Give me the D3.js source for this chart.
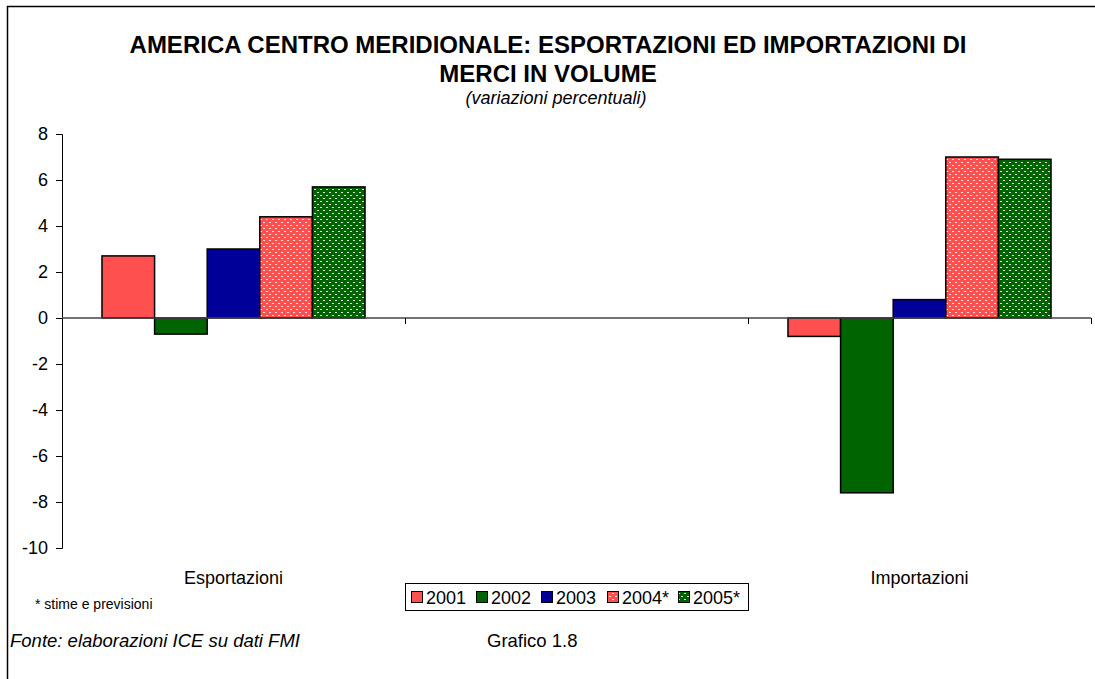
<!DOCTYPE html>
<html>
<head>
<meta charset="utf-8">
<script src="https://cdn.jsdelivr.net/npm/d3@7"></script>
<style>
  body { margin: 0; background: #fff; }
  text { font-family: "Liberation Sans", Arial, sans-serif; }
</style>
</head>
<body>
<svg id="chart"></svg>
<script>
// values
const categories = ["Esportazioni", "", "Importazioni"];
const seriesNames = ["2001", "2002", "2003", "2004*", "2005*"];
const esportazioni = [2.7, -0.7, 3.0, 4.4, 5.7];
const importazioni = [-0.8, -7.6, 0.8, 7.0, 6.9];
const yTicks = [-10, -8, -6, -4, -2, 0, 2, 4, 6, 8];
const colors = ["#ff5050", "#006400", "#000099", "#ff5050", "#006400"];
const patterned = [false, false, false, true, true];

const W = 1095, H = 679;
const margin = {top: 134, left: 62, right: 4, bottom: 131};
const width = W - margin.left - margin.right;
const height = H - margin.top - margin.bottom;

const svg = d3.select("#chart").attr("width", W).attr("height", H);

// dotted fills for the estimate years
const defs = svg.append("defs");
[3, 4].forEach(i => {
  const p = defs.append("pattern")
    .attr("id", "pat" + i)
    .attr("patternUnits", "userSpaceOnUse")
    .attr("width", 6).attr("height", 6);
  p.append("rect").attr("width", 6).attr("height", 6).attr("fill", colors[i]);
  p.append("rect").attr("x", 0).attr("y", 1).attr("width", 2).attr("height", 1).attr("fill", "#fff").attr("opacity", 0.85);
  p.append("rect").attr("x", 3).attr("y", 4).attr("width", 2).attr("height", 1).attr("fill", "#fff").attr("opacity", 0.85);
});
function fillFor(i) { return patterned[i] ? "url(#pat" + i + ")" : colors[i]; }

// frame (only top and left edges visible)
svg.append("path")
  .attr("d", "M7.5," + H + " V6.5 H" + W)
  .attr("fill", "none").attr("stroke", "#000").attr("stroke-width", 1.5);

// titles
svg.append("text").attr("x", 548).attr("y", 53).attr("text-anchor", "middle")
  .style("font-size", "24px").style("font-weight", "bold")
  .text("AMERICA CENTRO MERIDIONALE: ESPORTAZIONI ED IMPORTAZIONI DI");
svg.append("text").attr("x", 548).attr("y", 82).attr("text-anchor", "middle")
  .style("font-size", "24px").style("font-weight", "bold")
  .text("MERCI IN VOLUME");
svg.append("text").attr("x", 556).attr("y", 104).attr("text-anchor", "middle")
  .style("font-size", "18px").style("font-style", "italic")
  .text("(variazioni percentuali)");

const g = svg.append("g").attr("transform", "translate(" + margin.left + "," + margin.top + ")");

const y = d3.scaleLinear().domain([-10, 8]).range([height, 0]);
const x0 = d3.scaleBand().domain(d3.range(categories.length)).range([0, width]).paddingInner(0);
const x1 = d3.scaleBand().domain(d3.range(seriesNames.length))
  .range([0, x0.bandwidth()]).paddingOuter(0.76).paddingInner(0);

// y axis
const yAxis = g.append("g")
  .call(d3.axisLeft(y).tickValues(yTicks).tickSize(6).tickPadding(8).tickFormat(d => String(d)));
yAxis.selectAll("text").style("font-size", "18px").attr("fill", "#000");
yAxis.select(".domain").attr("stroke", "#000");
yAxis.selectAll(".tick line").attr("stroke", "#000");

// bars
const groups = [esportazioni, importazioni];
const groupIndex = [0, 2];
groups.forEach((vals, gi) => {
  g.append("g")
    .attr("transform", "translate(" + x0(groupIndex[gi]) + ",0)")
    .selectAll("rect")
    .data(vals)
    .join("rect")
    .attr("x", (d, i) => x1(i))
    .attr("y", d => y(Math.max(0, d)))
    .attr("width", x1.bandwidth())
    .attr("height", d => Math.abs(y(d) - y(0)))
    .attr("fill", (d, i) => fillFor(i))
    .attr("stroke", "#000")
    .attr("stroke-width", 1.5);
});

// zero axis with category ticks
g.append("line").attr("x1", 0).attr("x2", width).attr("y1", y(0)).attr("y2", y(0))
  .attr("stroke", "#444").attr("stroke-width", 1.5);
d3.range(1, categories.length + 1).forEach(k => {
  const xx = Math.round(k * x0.bandwidth()) + 0.5;
  g.append("line").attr("x1", xx).attr("x2", xx).attr("y1", y(0)).attr("y2", y(0) + 6)
    .attr("stroke", "#000");
});

// category labels
g.selectAll(".cat").data(categories).join("text")
  .attr("class", "cat")
  .attr("x", (d, i) => x0(i) + x0.bandwidth() / 2)
  .attr("y", height + 36)
  .attr("text-anchor", "middle")
  .style("font-size", "18px")
  .text(d => d);

// legend
const leg = svg.append("g").attr("transform", "translate(405,583)");
leg.append("rect").attr("x", 0.5).attr("y", 0.5).attr("width", 343).attr("height", 27)
  .attr("fill", "#fff").attr("stroke", "#000");
const legX = [6, 71, 136, 202, 273];
seriesNames.forEach((s, i) => {
  leg.append("rect").attr("x", legX[i] + 0.5).attr("y", 8.5).attr("width", 11).attr("height", 11)
    .attr("fill", fillFor(i)).attr("stroke", "#000");
  leg.append("text").attr("x", legX[i] + 15).attr("y", 20.5)
    .style("font-size", "18px").text(s);
});

// notes
svg.append("text").attr("x", 35).attr("y", 609).style("font-size", "14px").text("* stime e previsioni");
svg.append("text").attr("x", 10).attr("y", 647).style("font-size", "18.5px").style("font-style", "italic")
  .text("Fonte: elaborazioni ICE su dati FMI");
svg.append("text").attr("x", 487).attr("y", 647).style("font-size", "18.5px").text("Grafico 1.8");
</script>
</body>
</html>
